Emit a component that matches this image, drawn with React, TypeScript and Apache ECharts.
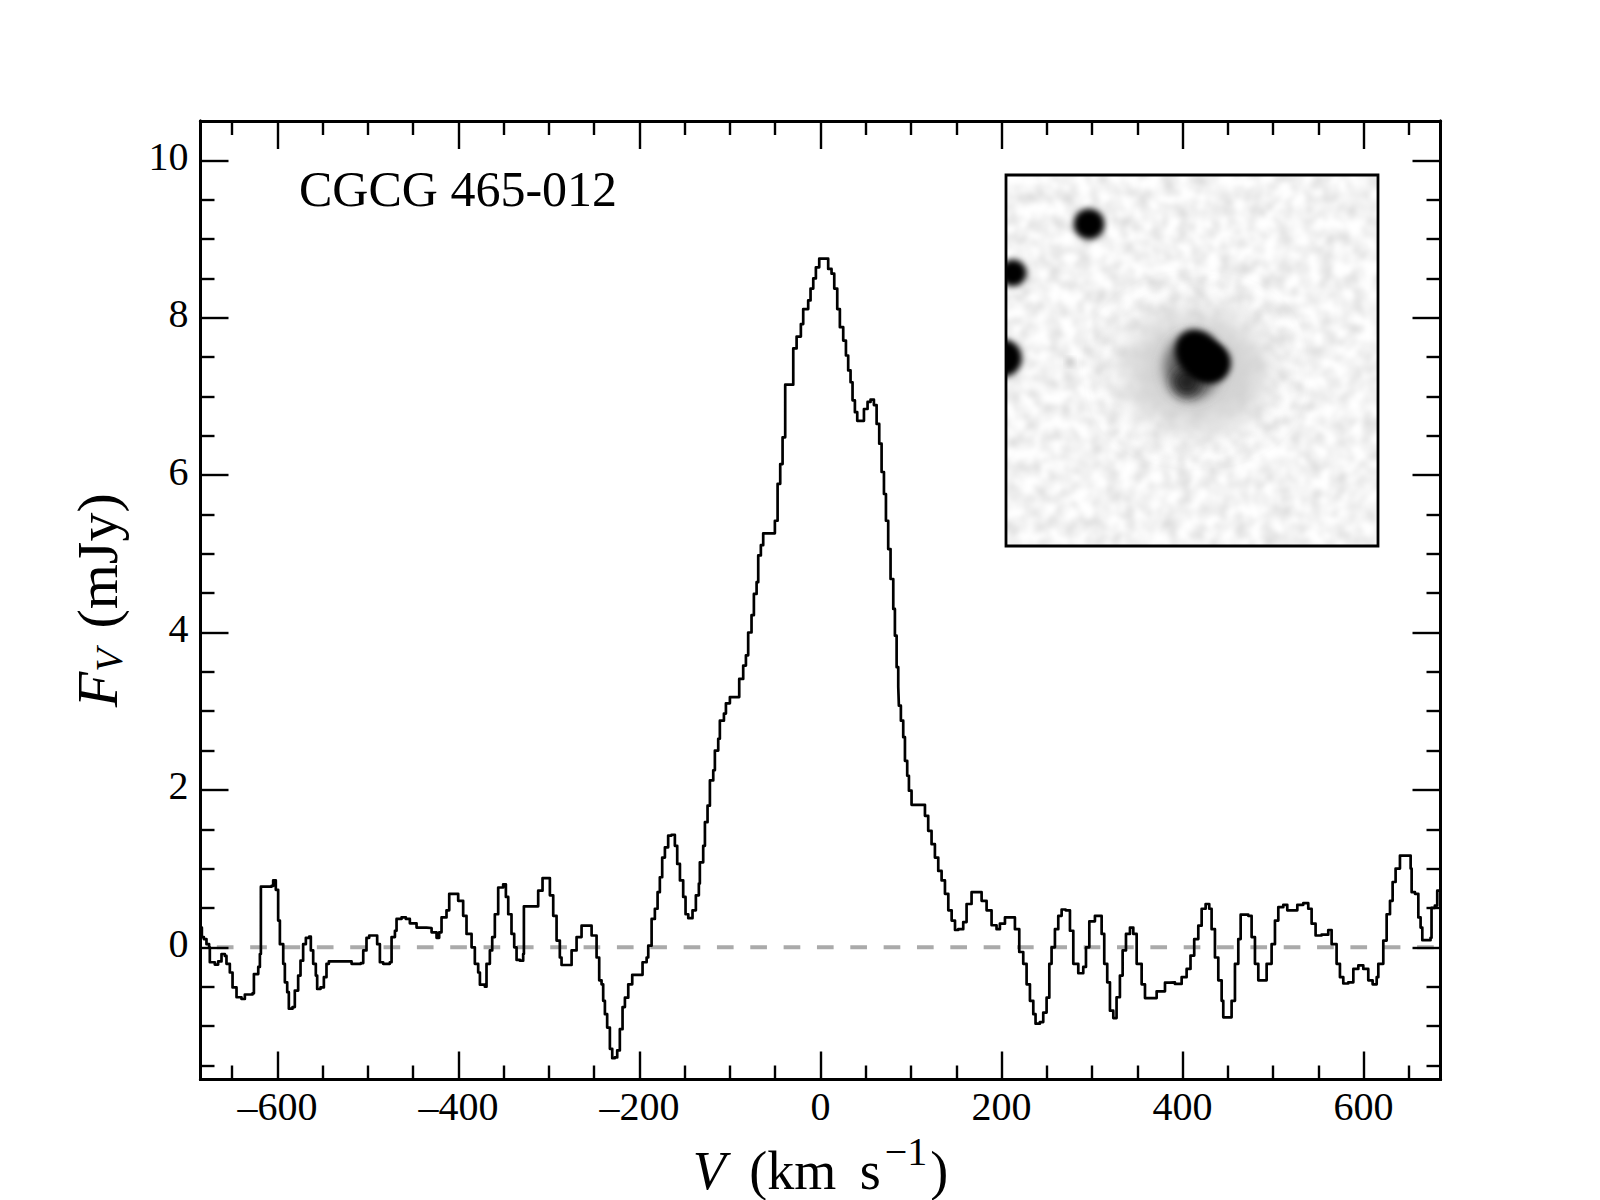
// Velocity spectrum with a stepped line and an optical image inset

import { useEffect, useRef } from 'react';
import * as echarts from 'echarts';

const X_MIN = -685;
const X_MAX = 685;
const Y_MIN = -1.68;
const Y_MAX = 10.5;

const xMajorTicks = [-600, -400, -200, 0, 200, 400, 600];
const xMinorTicks = [-650, -550, -500, -450, -350, -300, -250, -150, -100, -50, 50, 100, 150, 250, 300, 350, 450, 500, 550, 650];
const yMajorTicks = [0, 2, 4, 6, 8, 10];
const yMinorTicks = [-1.5, -1, -0.5, 0.5, 1, 1.5, 2.5, 3, 3.5, 4.5, 5, 5.5, 6.5, 7, 7.5, 8.5, 9, 9.5];

const velocity = [
    -685, -683.5, -681.3, -678.4, -675.5, -674.7, -669.2, -665.5, -661.8, -658.1,
    -656.3, -652.6, -649.6, -645.2, -639.7, -636, -627.5, -626, -621.2, -619.4,
    -618.3, -606.5, -604.7, -601.8, -599.2, -597.3, -593.6, -591.8, -589.2, -587.4,
    -583.3, -580.8, -577.1, -574.5, -571.6, -568.6, -564.9, -563.1, -560.5, -557.6,
    -556.1, -552.4, -548.7, -545.8, -543.2, -521.8, -518.1, -507.8, -505.2, -501.6,
    -498.6, -492.4, -489.8, -486.8, -483.2, -475.8, -473.9, -470.2, -468.4, -462.9,
    -458.1, -453.7, -446.3, -435.3, -429.7, -424.2, -421.3, -418.7, -413.2, -410.2,
    -404, -400.3, -394.8, -391.1, -385.5, -381.9, -378.2, -376.3, -370.8, -369,
    -365.3, -362.7, -359.8, -356.1, -350.6, -347.6, -345, -341.4, -338.4, -335.8,
    -332.1, -328.5, -327.7, -315.6, -311.9, -307.1, -302.7, -299, -295.3, -291.6,
    -288, -286.1, -278.7, -275, -269.5, -264, -258.5, -252.9, -247.4, -244.5,
    -241.9, -240.1, -238.2, -235.7, -232.7, -230.1, -227.2, -224.6, -221.7, -218.7,
    -216.1, -212.4, -208, -199.5, -196.6, -192.1, -190.3, -186.6, -183, -180,
    -177.5, -174.9, -171.9, -168.3, -164.6, -160.9, -158.3, -155.3, -151.7, -149.1,
    -146.1, -141.4, -137.7, -134.4, -133.3, -129.6, -127.7, -124.8, -122.2, -118.5,
    -116.7, -113, -111.2, -106.7, -104.5, -100.1, -91.3, -89.8, -85.4, -82.4,
    -79.9, -76.2, -73.6, -70.6, -68.8, -65.9, -63.3, -53, -50.4, -47.4,
    -44.5, -41.9, -39, -30.9, -30.1, -26.4, -21.7, -19.1, -13.6, -11,
    -8, -5.1, -1.4, 3.8, 8.5, 12.2, 15.2, 18.5, 21.4, 25.1,
    28.1, 30.6, 33.2, 35.4, 38, 40.6, 44.3, 48, 52, 55.3,
    59, 62, 64.9, 67.5, 70.1, 72.3, 74.8, 77.4, 80.4, 82.2,
    84.1, 85.9, 86.6, 88.8, 91.4, 93.3, 95.8, 97.7, 100.6, 111.7,
    115.4, 119, 122.7, 126.4, 130.1, 133.8, 137.5, 141.2, 144.9, 148.6,
    152.2, 157.7, 161.4, 166.9, 172.5, 178, 183.5, 189, 194.5, 198.2,
    203.8, 211.1, 214.8, 219.6, 224, 227.7, 231.4, 235.1, 237.6, 242.4,
    246.1, 249.8, 252.8, 255.3, 259, 262.7, 266.4, 270.8, 275.6, 279.3,
    284.8, 290.3, 293.3, 297, 303.2, 307.7, 310.6, 313.5, 316.8, 319.8,
    323.5, 327.1, 330.8, 333.8, 337.5, 341.9, 345.6, 349.3, 354.8, 358.5,
    362.9, 371.4, 380.6, 386.1, 391.6, 399, 404.5, 408.8, 412.9, 417.4,
    421.1, 425.5, 429.5, 432.1, 435.8, 439.5, 443.2, 445, 449.8, 454.2,
    457.9, 461.6, 464.2, 472.6, 476.3, 480, 483.7, 489.2, 492.9, 498.4,
    502.1, 505.8, 511.3, 515.7, 522.4, 526.8, 533.4, 538.9, 542.6, 547,
    553.6, 561, 564.7, 570.2, 573.9, 577.6, 583.1, 588.7, 594.2, 599.7,
    605.2, 610, 614.5, 616.3, 621.8, 625.5, 629.2, 632.1, 635.4, 640.2,
    646.8, 652, 653.1, 656.8, 660.5, 663, 664.9, 674, 675.1, 678.8,
    681.4, 685,
];

const flux = [
    0.25, 0.13, 0.105, 0.04, 0, -0.19, -0.22, -0.18, -0.085, -0.11,
    -0.21, -0.32, -0.51, -0.635, -0.657, -0.6, -0.585, -0.34, -0.25, -0.085,
    0.77, 0.78, 0.85, 0.73, 0.34, 0.04, -0.21, -0.445, -0.57, -0.78,
    -0.76, -0.55, -0.36, -0.17, 0.04, 0.12, 0.135, -0.04, -0.21, -0.36,
    -0.53, -0.51, -0.38, -0.21, -0.18, -0.18, -0.21, -0.2, -0.04, 0.12,
    0.15, 0.15, 0.04, -0.19, -0.21, -0.19, 0.13, 0.21, 0.36, 0.38,
    0.36, 0.305, 0.25, 0.245, 0.19, 0.12, 0.19, 0.38, 0.47, 0.68,
    0.68, 0.59, 0.4, 0.17, 0, -0.21, -0.32, -0.475, -0.5, -0.21,
    -0.04, 0.13, 0.42, 0.76, 0.8, 0.64, 0.42, 0.17, 0, -0.16,
    -0.17, -0.085, 0.52, 0.52, 0.72, 0.88, 0.88, 0.66, 0.4, 0.085,
    -0.13, -0.225, -0.225, -0.04, 0.13, 0.275, 0.275, 0.15, -0.13, -0.42,
    -0.47, -0.68, -0.85, -1.02, -1.29, -1.41, -1.4, -1.31, -1.04, -0.76,
    -0.64, -0.47, -0.35, -0.35, -0.19, -0.13, 0.02, 0.36, 0.49, 0.7,
    0.89, 1.14, 1.27, 1.42, 1.43, 1.29, 1.06, 0.85, 0.64, 0.42,
    0.37, 0.47, 0.66, 0.81, 1.08, 1.29, 1.59, 1.8, 2.12, 2.25,
    2.5, 2.65, 2.88, 2.97, 3.1, 3.18, 3.18, 3.41, 3.58, 3.71,
    4, 4.22, 4.49, 4.64, 4.98, 5.11, 5.26, 5.26, 5.42, 5.89,
    6.14, 6.48, 7.15, 7.15, 7.61, 7.76, 7.92, 8.11, 8.22, 8.37,
    8.5, 8.64, 8.75, 8.75, 8.62, 8.56, 8.37, 8.11, 7.88, 7.71,
    7.52, 7.33, 7.18, 6.95, 6.8, 6.69, 6.69, 6.84, 6.93, 6.96,
    6.89, 6.65, 6.4, 6.04, 5.76, 5.42, 5.06, 4.68, 4.3, 3.96,
    3.56, 3.31, 3.07, 2.88, 2.67, 2.37, 2.18, 1.99, 1.81, 1.81,
    1.67, 1.48, 1.31, 1.14, 0.97, 0.85, 0.68, 0.47, 0.34, 0.22,
    0.23, 0.32, 0.55, 0.7, 0.7, 0.59, 0.47, 0.28, 0.23, 0.3,
    0.38, 0.38, 0.23, -0.06, -0.21, -0.47, -0.68, -0.85, -0.97, -0.95,
    -0.83, -0.64, -0.21, 0, 0.23, 0.4, 0.48, 0.47, 0.21, -0.21,
    -0.33, -0.25, 0, 0.33, 0.4, 0.4, 0.17, -0.21, -0.445, -0.805,
    -0.9, -0.635, -0.36, -0.04, 0.17, 0.25, 0.17, -0.21, -0.47, -0.645,
    -0.645, -0.56, -0.45, -0.445, -0.465, -0.38, -0.275, -0.105, 0.105, 0.275,
    0.49, 0.55, 0.49, 0.23, -0.13, -0.42, -0.68, -0.89, -0.89, -0.68,
    -0.21, 0.105, 0.415, 0.4, 0.13, -0.21, -0.42, -0.42, -0.21, 0.04,
    0.34, 0.51, 0.54, 0.47, 0.47, 0.54, 0.56, 0.49, 0.3, 0.15,
    0.16, 0.22, 0.04, -0.21, -0.38, -0.46, -0.445, -0.275, -0.23, -0.275,
    -0.42, -0.47, -0.38, -0.21, 0.085, 0.42, 0.59, 0.83, 1, 1.165,
    1.165, 1, 0.7, 0.68, 0.38, 0.25, 0.09, 0.12, 0.5, 0.53,
    0.72, 0.74,
];

const zeroLine = [[X_MIN, 0], [X_MAX, 0]];

const FONT = '"Liberation Serif", "Times New Roman", serif';

// the inset is a picture, not data: a blurred sketch of the sky image
const insetSvg = `<svg xmlns="http://www.w3.org/2000/svg" width="372" height="371" viewBox="0 0 372 371">
<defs>
<filter id="noise" x="0" y="0" width="100%" height="100%" color-interpolation-filters="sRGB">
<feTurbulence type="fractalNoise" baseFrequency="0.07" numOctaves="2" seed="5"/>
<feColorMatrix type="matrix" values="0.25 0 0 0 0.83 0.25 0 0 0 0.83 0.25 0 0 0 0.83 0 0 0 0 1"/>
<feGaussianBlur stdDeviation="2"/>
</filter>
<filter id="b3" x="-50%" y="-50%" width="200%" height="200%"><feGaussianBlur stdDeviation="3"/></filter>
<filter id="b5" x="-60%" y="-60%" width="220%" height="220%"><feGaussianBlur stdDeviation="6"/></filter>
<filter id="b18" x="-80%" y="-80%" width="260%" height="260%"><feGaussianBlur stdDeviation="18"/></filter>
</defs>
<rect width="372" height="371" fill="#f3f3f3"/>
<rect x="-10" y="-10" width="392" height="391" filter="url(#noise)"/>
<ellipse cx="190" cy="195" rx="72" ry="58" fill="#d0d0d0" filter="url(#b18)"/>
<circle cx="83" cy="49" r="15.5" fill="#000" filter="url(#b3)"/>
<circle cx="7" cy="98" r="13.5" fill="#000" filter="url(#b3)"/>
<circle cx="-3" cy="183" r="19" fill="#000" filter="url(#b3)"/>
<circle cx="64" cy="187" r="3.5" fill="#b0b0b0" filter="url(#b3)"/>
<ellipse cx="186" cy="192" rx="28" ry="32" fill="#666" filter="url(#b5)"/>
<circle cx="181" cy="207" r="14" fill="#222" filter="url(#b5)"/>
<ellipse cx="193" cy="180" rx="22" ry="27" transform="rotate(-35 193 180)" fill="#000" filter="url(#b3)"/>
<circle cx="205" cy="188" r="20" fill="#000" filter="url(#b3)"/>
</svg>`;
const insetImage = 'data:image/svg+xml;charset=utf-8,' + encodeURIComponent(insetSvg);

const AXIS_LINE = { show: true, onZero: false, lineStyle: { color: '#000', width: 3 } };

function tickAxis(position: string, min: number, max: number, ticks: number[], length: number) {
    return {
        type: 'value' as const,
        position,
        min,
        max,
        z: 5,
        axisLine: AXIS_LINE,
        axisTick: { show: true, inside: true, length, customValues: ticks, lineStyle: { color: '#000', width: 2.4 } },
        minorTick: { show: false },
        splitLine: { show: false },
        axisLabel: { show: false },
    };
}

export default function App() {
    const chartRef = useRef<HTMLDivElement>(null);

    useEffect(() => {
        if (!chartRef.current) return;
        const chart = echarts.init(chartRef.current, undefined, { renderer: 'svg' });

        const option: any = {
            animation: false,
            backgroundColor: '#fff',
            textStyle: { fontFamily: FONT },
            grid: { left: 200.5, top: 121, width: 1240, height: 958.5, outerBoundsMode: 'none' },
            xAxis: [
                {
                    ...tickAxis('bottom', X_MIN, X_MAX, xMajorTicks, 28),
                    axisLabel: {
                        show: true,
                        customValues: xMajorTicks,
                        fontFamily: FONT,
                        fontSize: 40,
                        color: '#000',
                        margin: 7,
                        formatter: (v: number) => String(v).replace('-', '\u2013'),
                    },
                    name: '{i|V}{g| }{n|(km}{g| }{n|s}{s|\u22121}{n|)}',
                    nameLocation: 'middle',
                    nameGap: 46,
                    nameTextStyle: {
                        rich: {
                            i: { fontFamily: FONT, fontSize: 54, fontStyle: 'italic', color: '#000' },
                            n: { fontFamily: FONT, fontSize: 54, color: '#000' },
                            g: { fontFamily: FONT, fontSize: 54, color: '#000', padding: [0, 6, 0, 4] },
                            s: { fontFamily: FONT, fontSize: 40, color: '#000', padding: [0, 3, 40, 4] },
                        },
                    },
                },
                tickAxis('bottom', X_MIN, X_MAX, xMinorTicks, 14),
                tickAxis('top', X_MIN, X_MAX, xMajorTicks, 28),
                tickAxis('top', X_MIN, X_MAX, xMinorTicks, 14),
            ],
            yAxis: [
                {
                    ...tickAxis('left', Y_MIN, Y_MAX, yMajorTicks, 28),
                    axisLabel: {
                        show: true,
                        customValues: yMajorTicks,
                        fontFamily: FONT,
                        fontSize: 40,
                        color: '#000',
                        margin: 12,
                        verticalAlign: 'bottom',
                        lineHeight: 8,
                    },
                    name: '{i|F}{s|V}{g| }{n|(mJy)}',
                    nameLocation: 'middle',
                    nameRotate: 90,
                    nameGap: 63,
                    nameTextStyle: {
                        rich: {
                            i: { fontFamily: FONT, fontSize: 58, fontStyle: 'italic', color: '#000' },
                            n: { fontFamily: FONT, fontSize: 58, color: '#000' },
                            g: { fontFamily: FONT, fontSize: 80, color: '#000' },
                            s: { fontFamily: FONT, fontSize: 38, fontStyle: 'italic', color: '#000', padding: [22, 0, 0, 0] },
                        },
                    },
                },
                tickAxis('left', Y_MIN, Y_MAX, yMinorTicks, 14),
                tickAxis('right', Y_MIN, Y_MAX, yMajorTicks, 28),
                tickAxis('right', Y_MIN, Y_MAX, yMinorTicks, 14),
            ],
            series: [
                {
                    type: 'line',
                    name: 'zero',
                    data: zeroLine,
                    symbol: 'none',
                    silent: true,
                    z: 1,
                    lineStyle: { color: '#aaaaaa', width: 4, type: [16.67, 16.67], dashOffset: 16.67 },
                },
                {
                    type: 'line',
                    name: 'spectrum',
                    data: velocity.map((v, i) => [v, flux[i]]),
                    step: 'end',
                    symbol: 'none',
                    silent: true,
                    z: 2,
                    lineStyle: { color: '#000', width: 2.7, join: 'round' },
                },
            ],
            graphic: [
                {
                    type: 'text',
                    x: 299,
                    y: 189,
                    z: 10,
                    style: {
                        text: 'CGCG 465-012',
                        fontFamily: FONT,
                        fontSize: 50,
                        fill: '#000',
                        verticalAlign: 'middle',
                    },
                },
                {
                    type: 'image',
                    x: 1006,
                    y: 175,
                    z: 10,
                    style: { image: insetImage, width: 372, height: 371 },
                },
                {
                    type: 'rect',
                    x: 1006,
                    y: 175,
                    z: 11,
                    shape: { width: 372, height: 371 },
                    style: { fill: 'none', stroke: '#000', lineWidth: 2.8 },
                },
            ],
        };

        chart.setOption(option);
        return () => chart.dispose();
    }, []);

    return <div ref={chartRef} style={{ position: 'absolute', left: 0, top: 0, width: 1600, height: 1200 }} />;
}
